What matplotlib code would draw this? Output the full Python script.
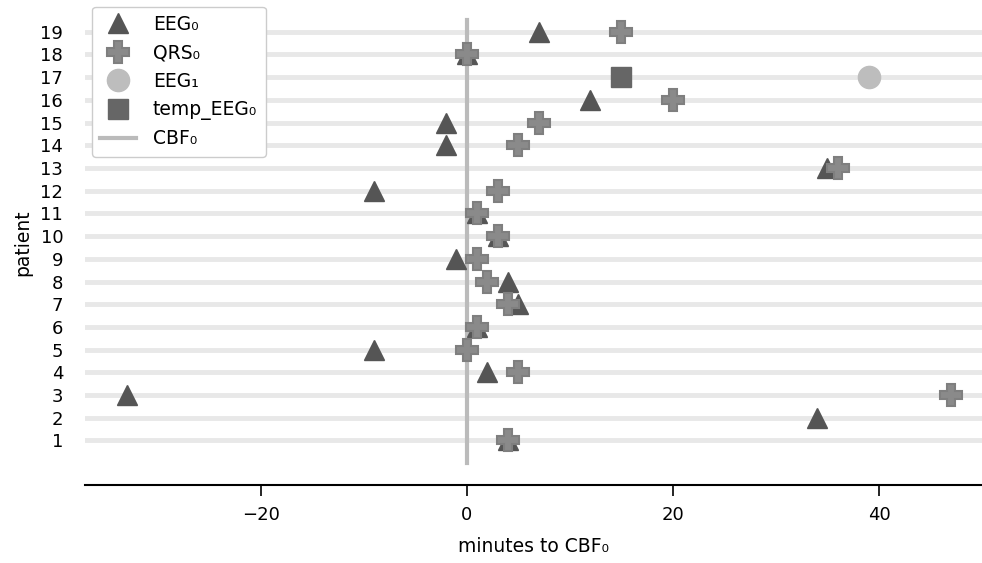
import matplotlib.pyplot as plt
import numpy as np

# patients and minutes relative to CBF0
patients = np.arange(1, 20)
eeg0 = [4, 34, -33, 2, -9, 1, 5, 4, -1, 3, 1, -9, 35, -2, -2, 12, np.nan, 0, 7]
qrs0 = [4, np.nan, 47, 5, 0, 1, 4, 2, 1, 3, 1, 3, 36, 5, 7, 20, np.nan, 0, 15]
eeg1_patient = [17]
eeg1 = [39]
temp_eeg0_patient = [17]
temp_eeg0 = [15]

fig, ax = plt.subplots(figsize=(9.82, 5.63), dpi=100)
fig.subplots_adjust(left=0.087, right=1.0, bottom=0.139, top=1.0)

ax.set_yticks(patients)
ax.set_yticklabels([str(p) for p in patients])
ax.yaxis.grid(True, color='#e8e8e8', linewidth=3.5)
ax.set_axisbelow(True)

ax.plot(eeg0, patients, '^', color='#555555', markersize=15, linestyle='none', label='EEG₀')
ax.plot(qrs0, patients, 'P', color='#8a8a8a', markeredgecolor='#7f7f7f', markeredgewidth=1.5,
        markersize=15.5, linestyle='none', label='QRS₀')
ax.plot(eeg1, eeg1_patient, 'o', color='#bdbdbd', markersize=16, linestyle='none', label='EEG₁')
ax.plot(temp_eeg0, temp_eeg0_patient, 's', color='#666666', markersize=15, linestyle='none',
        label='temp_EEG₀')
ax.plot([0, 0], [0, 19.5], color='#bbbbbb', linewidth=3, label='CBF₀', zorder=1)

ax.set_xlim(-37, 50)
ax.set_ylim(-0.95, 20.4)
ax.set_xticks([-20, 0, 20, 40])
ax.tick_params(axis='y', length=0, labelsize=13, pad=16)
ax.tick_params(axis='x', labelsize=13, length=8, width=1.2, pad=7)
for s in ['left', 'right', 'top']:
    ax.spines[s].set_visible(False)
ax.spines['bottom'].set_linewidth(1.5)

ax.set_xlabel('minutes to CBF₀', fontsize=13.5, labelpad=10)
ax.set_ylabel('patient', fontsize=13.5, labelpad=6)
ax.legend(loc='upper left', fontsize=13.5, framealpha=1, borderaxespad=0.35,
          handlelength=1.9, handletextpad=0.9, markerscale=1.0, labelspacing=0.5,
          borderpad=0.45)

plt.savefig('out.png')
